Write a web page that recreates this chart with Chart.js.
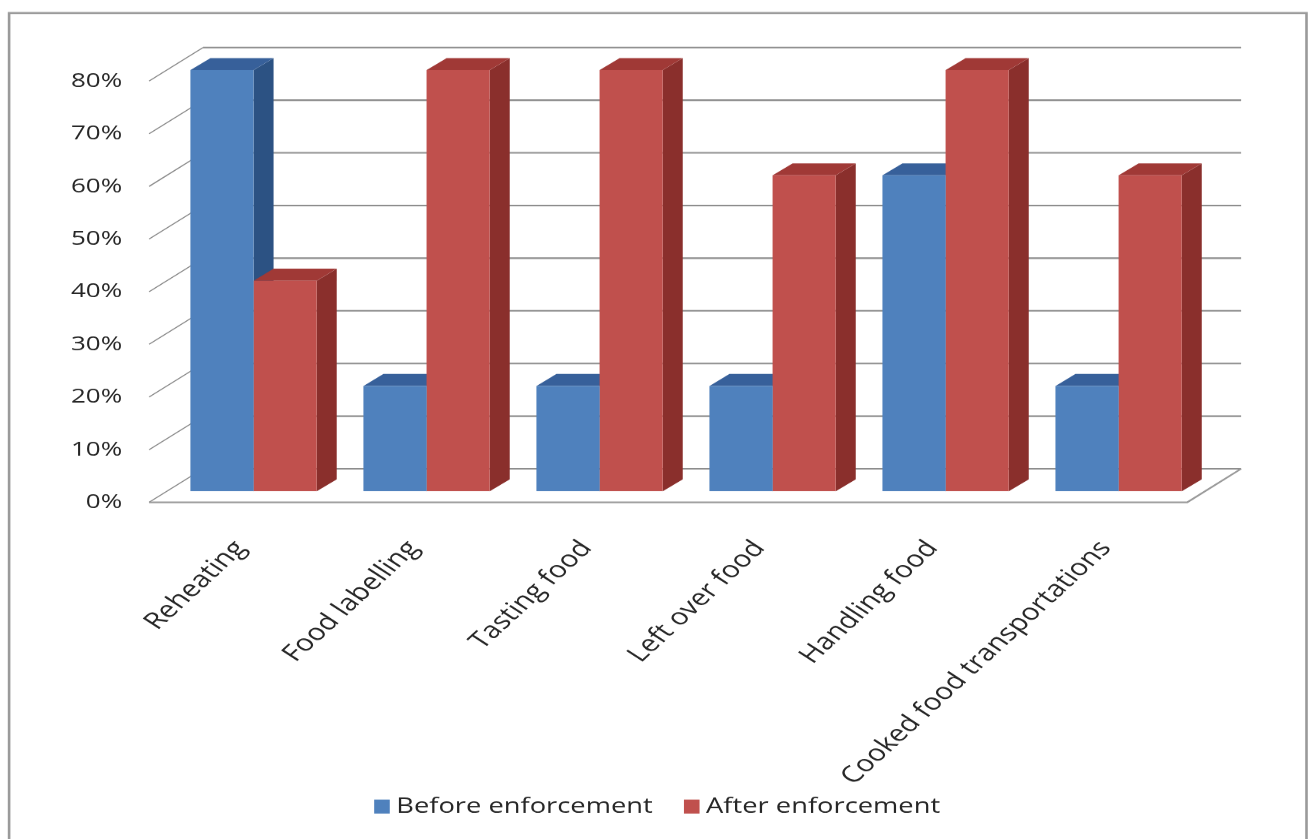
<!DOCTYPE html>
<html>
<head>
<meta charset="utf-8">
<title>Food handling practices before and after enforcement</title>
<script src="https://cdn.jsdelivr.net/npm/chart.js@4.4.1/dist/chart.umd.min.js"></script>
<style>
  html, body { margin: 0; padding: 0; background: #ffffff; overflow: hidden; }
  /* the chart is laid out on a narrower canvas and widened to the page width */
  #wrap {
    position: absolute; left: 0; top: 0;
    width: 1011px; height: 839px;
    transform: scaleX(1.2997033); transform-origin: 0 0;
  }
  canvas { display: block; }
</style>
</head>
<body>
<div id="wrap"><canvas id="chart" width="1011" height="839"></canvas></div>
<script>
// ---- data ----
const categories = [
  'Reheating',
  'Food labelling',
  'Tasting food',
  'Left over food',
  'Handling food',
  'Cooked food transportations'
];
const seriesNames = ['Before enforcement', 'After enforcement'];
const beforeEnforcement = [80, 20, 20, 20, 60, 20];
const afterEnforcement  = [40, 80, 80, 60, 80, 60];
const yTickLabels = ['0%', '10%', '20%', '30%', '40%', '50%', '60%', '70%', '80%'];

// ---- look ----
const FONT = "'Open Sans', 'Liberation Sans', sans-serif";
const TEXT = '#262626';
const faces = [
  { front: '#4f81bd', side: '#2c5283', top: '#37609a' },
  { front: '#c0504d', side: '#8a2f2c', top: '#a03936' }
];
// offsets of the floor/wall planes and of the bar depth, relative to the bar fronts
const PLANE = { frontDx: -13.8, frontDy: 11, backDx: 27.7, backDy: -22.5 };
const BAR_DEPTH = { dx: 15.4, dy: 12 };
const CANVAS_W = 1011;
const CANVAS_H = 839;
const PLOT_BOTTOM = 491;
const RIGHT_GUTTER = 84;
const LEGEND = { y: 806, box: 12, boxH: 14, gap: 5, itemGap: 24, size: 21 };

function poly(ctx, pts, fill) {
  ctx.beginPath();
  ctx.moveTo(pts[0][0], pts[0][1]);
  for (let k = 1; k < pts.length; k++) ctx.lineTo(pts[k][0], pts[k][1]);
  ctx.closePath();
  ctx.fillStyle = fill;
  ctx.fill();
}

// outer frame, back wall, floor, the 3-D faces of every column and the legend row
const depthPlugin = {
  id: 'depth3d',
  beforeDraw(chart) {
    const ctx = chart.ctx;
    ctx.save();
    ctx.strokeStyle = '#9a9a9a';
    ctx.lineWidth = 2;
    ctx.strokeRect(7, 13, 998, CANVAS_H + 10);
    ctx.restore();
  },
  beforeDatasetsDraw(chart) {
    const { ctx, chartArea: { left, right }, scales: { y } } = chart;
    const values = y.ticks.map(t => t.value);
    ctx.save();

    // back wall gridlines
    ctx.strokeStyle = '#8c8c8c';
    ctx.lineWidth = 1.6;
    values.forEach(v => {
      const py = y.getPixelForValue(v) + PLANE.backDy;
      ctx.beginPath();
      ctx.moveTo(left + PLANE.backDx, py);
      ctx.lineTo(right + PLANE.backDx, py);
      ctx.stroke();
    });

    // side wall tick lines
    ctx.strokeStyle = '#8a8a8a';
    ctx.lineWidth = 1;
    values.forEach(v => {
      const py = y.getPixelForValue(v);
      ctx.beginPath();
      ctx.moveTo(left + PLANE.frontDx, py + PLANE.frontDy);
      ctx.lineTo(left + PLANE.backDx, py + PLANE.backDy);
      ctx.stroke();
    });

    // floor outline
    const p0 = y.getPixelForValue(0);
    ctx.strokeStyle = '#9a9a9a';
    ctx.lineWidth = 1.6;
    ctx.beginPath();
    ctx.moveTo(left + PLANE.frontDx, p0 + PLANE.frontDy);
    ctx.lineTo(right + PLANE.frontDx, p0 + PLANE.frontDy);
    ctx.lineTo(right + PLANE.backDx, p0 + PLANE.backDy);
    ctx.stroke();

    // side and top faces, painted before the fronts
    const dx = BAR_DEPTH.dx, dy = BAR_DEPTH.dy;
    for (let j = 0; j < categories.length; j++) {
      chart.data.datasets.forEach((ds, i) => {
        const el = chart.getDatasetMeta(i).data[j];
        if (!el) return;
        const { x, y: top, base, width } = el.getProps(['x', 'y', 'base', 'width'], true);
        const l = x - width / 2, r = x + width / 2;
        poly(ctx, [[r, top], [r + dx, top - dy], [r + dx, base - dy], [r, base]], faces[i].side);
        poly(ctx, [[l, top], [l + dx, top - dy], [r + dx, top - dy], [r, top]], faces[i].top);
      });
    }
    ctx.restore();
  },
  afterDraw(chart) {
    // legend row: a small square and the series name for each dataset, centred
    const ctx = chart.ctx;
    const ds = chart.data.datasets;
    ctx.save();
    ctx.font = LEGEND.size + 'px ' + FONT;
    ctx.textBaseline = 'middle';
    ctx.textAlign = 'left';
    const widths = ds.map(d => ctx.measureText(d.label).width);
    const total = widths.reduce((s, w) => s + LEGEND.box + LEGEND.gap + w, 0) + LEGEND.itemGap * (ds.length - 1);
    let x = (CANVAS_W - total) / 2;
    ds.forEach((d, i) => {
      ctx.fillStyle = d.backgroundColor;
      ctx.fillRect(x, LEGEND.y - LEGEND.boxH / 2, LEGEND.box, LEGEND.boxH);
      x += LEGEND.box + LEGEND.gap;
      ctx.fillStyle = TEXT;
      ctx.fillText(d.label, x, LEGEND.y);
      x += widths[i] + LEGEND.itemGap;
    });
    ctx.restore();
  }
};

new Chart(document.getElementById('chart'), {
  type: 'bar',
  data: {
    labels: categories,
    datasets: [
      { label: seriesNames[0], data: beforeEnforcement, backgroundColor: faces[0].front, borderWidth: 0 },
      { label: seriesNames[1], data: afterEnforcement, backgroundColor: faces[1].front, borderWidth: 0 }
    ]
  },
  options: {
    responsive: false,
    animation: false,
    devicePixelRatio: 1.3,
    events: [],
    layout: { padding: { left: 0, right: 0, top: 70, bottom: 0 } },
    datasets: { bar: { categoryPercentage: 0.73, barPercentage: 1.0 } },
    scales: {
      x: {
        grid: { display: false, drawTicks: false },
        border: { display: false },
        ticks: {
          autoSkip: false,
          minRotation: 50,
          maxRotation: 50,
          padding: 44,
          labelOffset: -10,
          color: TEXT,
          font: { family: FONT, size: 23 }
        },
        afterFit(scale) { scale.height = CANVAS_H - PLOT_BOTTOM; }
      },
      y: {
        min: 0,
        max: 80,
        grid: { display: false, drawTicks: false },
        border: { display: false },
        ticks: {
          stepSize: 10,
          padding: 34.5,
          labelOffset: 11,
          color: TEXT,
          font: { family: FONT, size: 20 },
          callback: (value, index) => yTickLabels[index]
        },
        afterFit(scale) { scale.width = 128.5; }
      },
      // empty gutter that keeps the plot clear of the right-hand side
      gutter: {
        type: 'linear',
        position: 'right',
        grid: { display: false, drawTicks: false },
        border: { display: false },
        ticks: { display: false },
        afterFit(scale) { scale.width = RIGHT_GUTTER; }
      }
    },
    plugins: {
      legend: { display: false },
      tooltip: { enabled: false }
    }
  },
  plugins: [depthPlugin]
});
</script>
</body>
</html>
